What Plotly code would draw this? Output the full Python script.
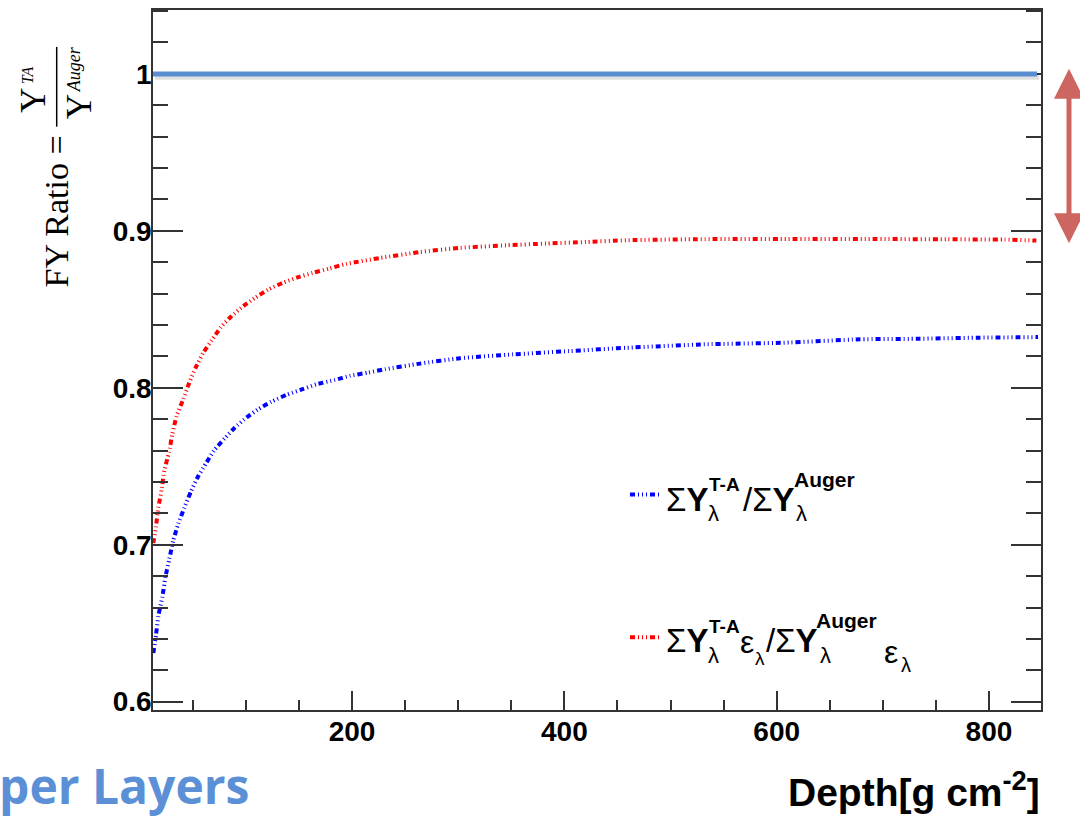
import plotly.graph_objects as go

# ---------------- data ----------------
depth_blue = [12.8, 15.3, 17.5, 21.3, 24.1, 27.9, 31.6, 36.3, 42.0, 48.3, 54.6, 63.0,
              70.0, 80.3, 89.7, 100.7, 111.7, 124.3, 138.4, 153.5, 166.7, 183.9, 198.0,
              215.3, 231.0, 263.9, 301.6, 351.8, 405.2, 458.6, 532.3, 606.0, 678.3,
              731.6, 788.1, 846.2]
ratio_blue = [0.631, 0.6424, 0.6545, 0.6667, 0.679, 0.691, 0.7027, 0.7133, 0.7235, 0.734,
              0.743, 0.7525, 0.760, 0.768, 0.7747, 0.7811, 0.7864, 0.7912, 0.7955, 0.7991,
              0.8023, 0.8050, 0.8076, 0.8097, 0.8118, 0.8154, 0.8188, 0.8213, 0.8234,
              0.8255, 0.8277, 0.8287, 0.8309, 0.8312, 0.8319, 0.8323]

depth_red = [12.8, 15.0, 17.5, 20.6, 23.1, 27.6, 30.7, 34.8, 41.1, 46.7, 52.7, 59.9, 67.8,
             76.6, 86.6, 97.6, 108.6, 121.1, 134.6, 149.4, 162.9, 178.5, 194.3, 226.3,
             263.9, 301.6, 345.6, 383.2, 420.9, 458.6, 532.3, 610.0, 684.6, 760.0,
             814.8, 844.6]
ratio_red = [0.701, 0.710, 0.7235, 0.7351, 0.7472, 0.7588, 0.7705, 0.7821, 0.7928, 0.8033,
             0.8128, 0.8224, 0.8302, 0.8387, 0.8457, 0.8520, 0.8573, 0.8626, 0.8668,
             0.8705, 0.8732, 0.876, 0.8789, 0.8827, 0.8865, 0.8891, 0.8908, 0.8919,
             0.8929, 0.894, 0.8947, 0.8948, 0.8948, 0.8946, 0.8944, 0.8938]

ref_level = [1.0]
x_tick_vals = [200, 400, 600, 800]
x_tick_text = ["200", "400", "600", "800"]
y_tick_vals = [0.6, 0.7, 0.8, 0.9, 1.0]
y_tick_text = ["0.6", "0.7", "0.8", "0.9", "1"]

# ---------------- layout geometry ----------------
W, H = 1080, 821
L, R, T, B = 153, 1041, 8, 710


def px(x):
    return (x - L) / (R - L)


def py(y):
    return (B - y) / (B - T)


SANS = "Liberation Sans, Arial, sans-serif"
SERIF = "Liberation Serif, Times New Roman, serif"
DASH = "5px,3px,1px,3px,1px,3px,1px,3px"

fig = go.Figure()
fig.add_trace(go.Scatter(x=depth_blue, y=ratio_blue, mode="lines",
                         line=dict(color="#0000ff", width=4, dash=DASH,
                                   shape="spline", smoothing=0.5),
                         showlegend=False, hoverinfo="skip"))
fig.add_trace(go.Scatter(x=depth_red, y=ratio_red, mode="lines",
                         line=dict(color="#ff0000", width=4, dash=DASH,
                                   shape="spline", smoothing=0.5),
                         showlegend=False, hoverinfo="skip"))

shapes = []
# reference line at ratio = 1 (with faint shadow)
shapes.append(dict(type="line", xref="paper", yref="y", x0=0.002, x1=px(1039),
                   y0=ref_level[0] - 0.0018, y1=ref_level[0] - 0.0018,
                   line=dict(color="rgba(0,0,0,0.12)", width=6), layer="above"))
shapes.append(dict(type="line", xref="paper", yref="y", x0=0.0, x1=px(1037),
                   y0=ref_level[0], y1=ref_level[0],
                   line=dict(color="#5b8ed0", width=5), layer="above"))
# legend samples
shapes.append(dict(type="line", xref="paper", yref="paper", x0=px(630), x1=px(659),
                   y0=py(494), y1=py(494), line=dict(color="#0000ff", width=4, dash=DASH)))
shapes.append(dict(type="line", xref="paper", yref="paper", x0=px(630), x1=px(659),
                   y0=py(637), y1=py(637), line=dict(color="#ff0000", width=4, dash=DASH)))
# fraction bar of y title
shapes.append(dict(type="line", xref="paper", yref="paper", x0=px(56.7), x1=px(56.7),
                   y0=py(45), y1=py(125), line=dict(color="black", width=1.5)))

annotations = []


def txt(s, x, baseline, size, family=SANS, anchor="left", color="black"):
    annotations.append(dict(text=s, xref="paper", yref="paper", x=px(x),
                            y=py(baseline - 0.35 * size), xanchor=anchor,
                            yanchor="middle", showarrow=False, borderpad=0,
                            font=dict(family=family, size=size, color=color)))


def rtxt(s, cx, cy, size, family=SERIF):
    annotations.append(dict(text=s, xref="paper", yref="paper", x=px(cx), y=py(cy),
                            xanchor="center", yanchor="middle", textangle=-90,
                            showarrow=False, borderpad=0,
                            font=dict(family=family, size=size, color="black")))


# legend entry 1
txt("Σ<b>Y</b>", 665, 510, 33)
txt("<b>T-A</b>", 708, 491, 19)
txt("λ", 707, 521, 22)
txt("/Σ<b>Y</b>", 742, 510, 33)
txt("<b>Auger</b>", 793, 486, 21)
txt("λ", 795, 521, 22)
# legend entry 2
txt("Σ<b>Y</b>", 665, 652, 33)
txt("<b>T-A</b>", 708, 633, 19)
txt("λ", 707, 663, 22)
txt("ε", 739, 653, 32)
txt("λ", 754, 665, 19)
txt("/Σ<b>Y</b>", 765, 652, 33)
txt("<b>Auger</b>", 815, 628, 21)
txt("λ", 819, 663, 22)
txt("ε", 883, 663, 32)
txt("λ", 900, 672, 20)

# x title
txt("<b>Depth[g cm<sup>-2</sup>]</b>", 1041, 803, 39, anchor="right")

# slide text at bottom left
annotations.append(dict(text="<b>per Layers</b>", xref="paper", yref="paper",
                        x=px(250), y=py(803 - 0.36 * 48), xanchor="right",
                        yanchor="middle", showarrow=False, borderpad=0,
                        font=dict(family="Open Sans, Lato, sans-serif", size=48,
                                  color="#5b8fd6")))

# y title (rotated, serif)
rtxt("FY Ratio =", 56, 210, 34)
rtxt("Y", 33.3, 99, 35)
rtxt("<i>TA</i>", 27.5, 74, 16)
rtxt("Y", 79.5, 105, 35)
rtxt("<i>Auger</i>", 73.5, 68, 18)

# red double-headed arrow
annotations.append(dict(text="", xref="paper", yref="paper", x=px(1069), y=py(67),
                        axref="pixel", ayref="pixel", ax=0, ay=176,
                        showarrow=True, arrowhead=2, startarrowhead=2,
                        arrowside="end+start", arrowsize=1.2, startarrowsize=1.2,
                        arrowwidth=5, arrowcolor="#cd6661"))

tickfont = dict(family=SANS, size=28, color="black", weight="bold")
fig.update_layout(
    width=W, height=H,
    margin=dict(l=L, r=W - R, t=T, b=H - B, pad=0),
    paper_bgcolor="white", plot_bgcolor="white",
    showlegend=False,
    shapes=shapes, annotations=annotations,
    xaxis=dict(range=[12.5, 849], tickmode="array", tickvals=x_tick_vals,
               ticktext=x_tick_text, ticks="inside", ticklen=19, tickwidth=1.5,
               tickcolor="#333", showline=True, linecolor="#333", linewidth=1.5,
               mirror=True, showgrid=False, zeroline=False, tickfont=tickfont,
               ticklabelstandoff=-4,
               minor=dict(dtick=50, tick0=0, ticks="inside", ticklen=10,
                          tickwidth=1.5, tickcolor="#333", showgrid=False)),
    yaxis=dict(range=[0.5947, 1.0407], tickmode="array", tickvals=y_tick_vals,
               ticktext=y_tick_text, ticks="inside", ticklen=30, tickwidth=1.5,
               tickcolor="#333", showline=True, linecolor="#333", linewidth=1.5,
               mirror="ticks", showgrid=False, zeroline=False, tickfont=tickfont,
               ticklabelstandoff=-6,
               minor=dict(dtick=0.02, tick0=0.6, ticks="inside", ticklen=15,
                          tickwidth=1.5, tickcolor="#333", showgrid=False)),
)

fig.write_html("out.html")
